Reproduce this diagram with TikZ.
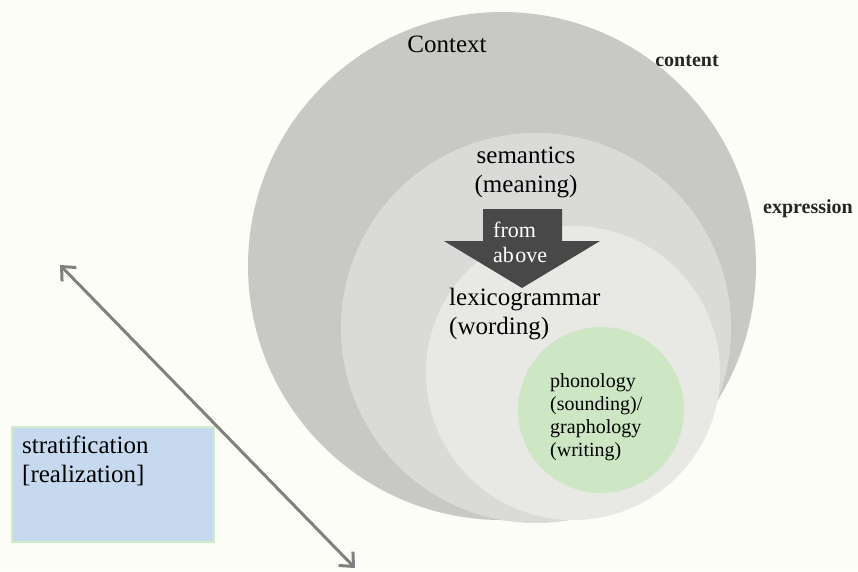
\documentclass[tikz,border=0pt]{standalone}
\usepackage{fontspec}
\setmainfont{Liberation Serif}
\usetikzlibrary{arrows.meta}
\definecolor{bgc}{RGB}{253,253,248}
\definecolor{outerc}{RGB}{200,201,197}
\definecolor{semc}{RGB}{218,219,216}
\definecolor{lexc}{RGB}{232,232,228}
\definecolor{phonc}{RGB}{205,230,196}
\definecolor{arrc}{RGB}{72,72,72}
\definecolor{boxfill}{RGB}{198,217,239}
\definecolor{boxline}{RGB}{208,236,198}
\definecolor{dblc}{RGB}{128,128,128}
\tikzset{
  disc/.style={circle, inner sep=0pt, draw=none},
  bigtxt/.style={font=\fontsize{25}{29}\selectfont, text=black, inner sep=0pt},
  midtxt/.style={font=\fontsize{20}{23}\selectfont, text=black, inner sep=0pt},
  boldtxt/.style={font=\fontsize{20}{23}\selectfont\bfseries, text=black!85, inner sep=0pt},
  whitetxt/.style={font=\fontsize{22}{25}\selectfont, text=white, inner sep=0pt},
}
\begin{document}
\begin{tikzpicture}[x=1pt,y=-1pt]
\fill[bgc] (0,0) rectangle (858,571);
\useasboundingbox (0,0) rectangle (858,571);
% nested circles
\node[disc, fill=outerc, minimum size=508pt] (ctx) at (502,266) {};
\node[disc, fill=semc, minimum size=390pt] (sem) at (536,328) {};
\node[disc, fill=lexc, minimum size=294pt] (lex) at (573,373) {};
\node[disc, fill=phonc, minimum size=166pt] (pho) at (601,410) {};
% block arrow
\fill[arrc] (483,209) -- (562,209) -- (562,241) -- (600,241) -- (522,288)
  -- (444,241) -- (483,241) -- cycle;
% labels (base anchor = baseline of the last line)
\node[bigtxt, anchor=base] (tctx) at (447,52) {Context};
\node[boldtxt, anchor=base] (tcon) at (687,66) {content};
\node[boldtxt, anchor=base] (texp) at (808,213) {expression};
\node[bigtxt, anchor=base, align=center] (tsem) at (526,192) {semantics\\(meaning)};
\node[whitetxt, anchor=base west, align=left] (tfrom) at (493,262) {from\\ab\kern1.5pt ove};
\node[bigtxt, anchor=base west, align=left] (tlex) at (449,334) {lexicogrammar\\(wording)};
\node[midtxt, anchor=base west, align=left] (tpho) at (550,456) {phonology\\(sounding)/\\graphology\\(writing)};
% stratification box
\node[draw=boxline, fill=boxfill, line width=2pt, minimum width=202pt, minimum height=115pt,
      anchor=north west, inner sep=0pt] (strat) at (11,426) {};
\node[bigtxt, anchor=base west, align=left] (tstrat) at (22,482) {stratification\\{}[realization]};
% double arrow
\coordinate (up) at (60,265);
\coordinate (down) at (355,568);
\draw[dblc, line width=3pt, {Straight Barb[length=11pt,width=20pt,line width=3pt]}-{Straight Barb[length=11pt,width=20pt,line width=3pt]}] (up) -- (down);
\end{tikzpicture}
\end{document}
